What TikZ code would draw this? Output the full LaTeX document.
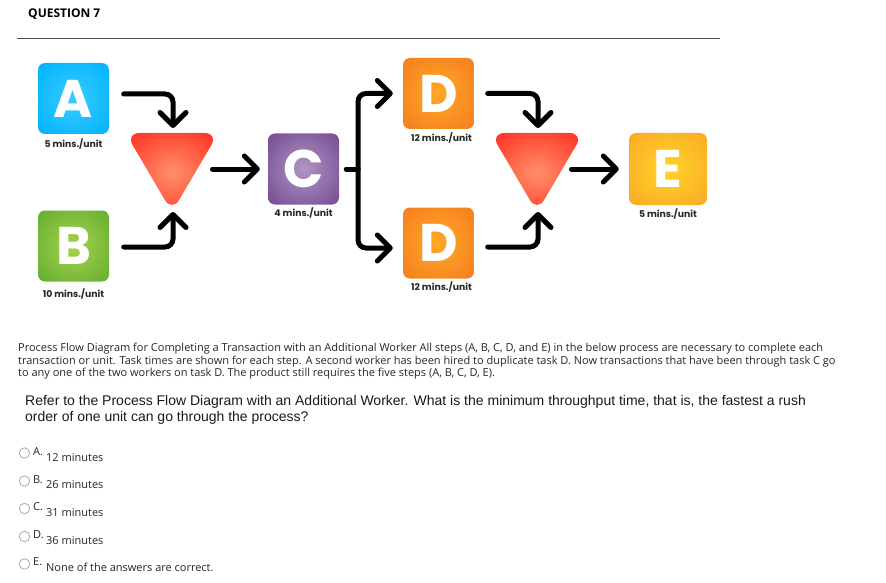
\documentclass[tikz,border=0pt]{standalone}
\usepackage{fontspec}
\setmainfont{Open Sans}
\newfontfamily\boxfont{Poppins}
\newfontfamily\askfont{Liberation Sans}
\usetikzlibrary{
    positioning,
    arrows.meta
}
\definecolor{innerA}{HTML}{38CCFF}
\definecolor{outerA}{HTML}{00B2FF}
\definecolor{innerB}{HTML}{A8D24F}
\definecolor{outerB}{HTML}{62AD2F}
\definecolor{innerC}{HTML}{B095C4}
\definecolor{outerC}{HTML}{734A92}
\definecolor{innerD}{HTML}{FFA825}
\definecolor{outerD}{HTML}{F57C20}
\definecolor{innerE}{HTML}{FFD528}
\definecolor{outerE}{HTML}{FBA826}
\definecolor{innerM}{HTML}{FF9068}
\definecolor{outerM}{HTML}{FF3A2C}
\pgfdeclareradialshading{glowA}{\pgfpoint{0bp}{0bp}}{color(0bp)=(innerA); color(36bp)=(outerA); color(100bp)=(outerA)}
\pgfdeclareradialshading{glowB}{\pgfpoint{0bp}{0bp}}{color(0bp)=(innerB); color(36bp)=(outerB); color(100bp)=(outerB)}
\pgfdeclareradialshading{glowC}{\pgfpoint{0bp}{0bp}}{color(0bp)=(innerC); color(36bp)=(outerC); color(100bp)=(outerC)}
\pgfdeclareradialshading{glowD}{\pgfpoint{0bp}{0bp}}{color(0bp)=(innerD); color(36bp)=(outerD); color(100bp)=(outerD)}
\pgfdeclareradialshading{glowE}{\pgfpoint{0bp}{0bp}}{color(0bp)=(innerE); color(36bp)=(outerE); color(100bp)=(outerE)}
\pgfdeclareradialshading{glowM}{\pgfpoint{0bp}{0bp}}{color(0bp)=(innerM); color(30bp)=(outerM); color(100bp)=(outerM)}
\tikzset{
  basic/.style = {
      rectangle,
      rounded corners=7pt,
      text=white,
      inner sep=0pt,
      minimum width=71pt,
      minimum height=71pt,
      font=\boxfont\fontsize{53}{53}\selectfont\bfseries
  },
  merge/.style = {
      rounded corners=14pt,
      shading=glowM
  },
  time/.style = {
      font=\boxfont\fontsize{9.3}{9.3}\selectfont\bfseries,
      inner sep=0pt,
      text=black!85
  },
  edge/.style = {
      line width=5pt,
      line cap=round,
      rounded corners=8pt,
      -{Straight Barb[length=13pt,width=26pt,line width=5pt,round]}
  },
  stub/.style = {
      line width=5pt,
      line cap=round
  },
  radio/.style = {
      circle,
      draw=black!30,
      line width=0.9pt,
      fill=white,
      minimum size=10.5pt,
      inner sep=0pt
  },
  letter/.style = {
      font=\fontsize{11}{13}\selectfont,
      inner sep=0pt,
      anchor=west,
      text=black!85
  }
}
\begin{document}
\begin{tikzpicture}[x=1pt, y=-1pt]
        \useasboundingbox (0,0) rectangle (886,583);
        % Heading
        \node[font=\fontsize{12}{14}\selectfont\bfseries, inner sep=0pt, anchor=west] (heading) at (28,14) {QUESTION 7};
        \coordinate (ruleL) at (17,38.5);
        \coordinate (ruleR) at (720,38.5);
        \draw[black!70, line width=0.7pt] (ruleL) -- (ruleR);
        % Tasks
        \node[basic, shading=glowA] (A) at (73.5,98.5) {A};
        \node[basic, shading=glowB] (B) at (73.5,246) {B};
        \node[basic, shading=glowC] (C) at (303.5,169) {C};
        \node[basic, shading=glowD] (D1) at (438.5,93.5) {D};
        \node[basic, shading=glowD] (D2) at (438.5,243) {D};
        \node[basic, shading=glowE, minimum width=78pt, minimum height=72pt] (E) at (668,169) {E};
        % Merges
        \coordinate (M1) at (172,169);
        \coordinate (M2) at (537,169);
        \shade[merge] ([shift={(-46.5,-36)}]M1) -- ++(93,0) -- ++(-46.5,79) -- cycle;
        \shade[merge] ([shift={(-46.5,-36)}]M2) -- ++(93,0) -- ++(-46.5,79) -- cycle;
        % Times
        \node[time, below=4.5pt of A] (timeA) {5 mins./unit};
        \node[time, below=7pt of B] (timeB) {10 mins./unit};
        \node[time, below=3pt of C] (timeC) {4 mins./unit};
        \node[time, below=3pt of D1, xshift=3pt] (timeD1) {12 mins./unit};
        \node[time, below=3pt of D2, xshift=3pt] (timeD2) {12 mins./unit};
        \node[time, below=3pt of E] (timeE) {5 mins./unit};
        % Edges
        \coordinate (split) at (358,169);
        \draw[edge] ([xshift=14.5pt,yshift=4.5pt]A.east) -| ([shift={(1,-41)}]M1);
        \draw[edge] ([xshift=14.5pt,yshift=-1pt]B.east) -| ([shift={(1,43)}]M1);
        \draw[edge] ([xshift=40.5pt]M1) -- ([xshift=-8pt]C.west);
        \draw[stub] ([xshift=7pt]C.east) -- (split);
        \draw[edge] (split) |- ([xshift=-10pt]D1.west);
        \draw[edge] (split) |- ([xshift=-10pt,yshift=-5pt]D2.west);
        \draw[edge] ([xshift=13.5pt]D1.east) -| ([shift={(1,-41)}]M2);
        \draw[edge] ([xshift=13.5pt,yshift=-4pt]D2.east) -| ([shift={(1,43)}]M2);
        \draw[edge] ([xshift=34.5pt]M2) -- ([xshift=-10pt]E.west);
        % Text
        \node[font=\fontsize{11}{12.6}\selectfont, align=left, inner sep=0pt, anchor=north west, text=black!85] (para) at (18,343) {Process Flow Diagram for Completing a Transaction with an Additional Worker All steps (A, B, C, D, and E) in the below process are necessary to complete each\\transaction or unit. Task times are shown for each step. A second worker has been hired to duplicate task D. Now transactions that have been through task C go\\to any one of the two workers on task D. The product still requires the five steps (A, B, C, D, E).};
        \node[font=\askfont\fontsize{14}{16}\selectfont, align=left, inner sep=0pt, anchor=north west, text=black!90] (ask) at (25,395.5) {Refer to the Process Flow Diagram with an Additional Worker. What is the minimum throughput time, that is, the fastest a rush\\order of one unit can go through the process?};
        % Options
        \node[radio] (radioA) at (24.5,453) {};
        \node[radio] (radioB) at (24.5,481) {};
        \node[radio] (radioC) at (24.5,508.5) {};
        \node[radio] (radioD) at (24.5,536.5) {};
        \node[radio] (radioE) at (24.5,564) {};
        \node[letter] (letterA) at (33,452) {A.};
        \node[letter] (letterB) at (33,480) {B.};
        \node[letter] (letterC) at (33,507) {C.};
        \node[letter] (letterD) at (33,535) {D.};
        \node[letter] (letterE) at (33,562) {E.};
        \node[letter] (answerA) at (46,457.5) {12 minutes};
        \node[letter] (answerB) at (46,484.5) {26 minutes};
        \node[letter] (answerC) at (46,512.5) {31 minutes};
        \node[letter] (answerD) at (46,540.5) {36 minutes};
        \node[letter] (answerE) at (46,567.5) {None of the answers are correct.};
    \end{tikzpicture}
\end{document}
